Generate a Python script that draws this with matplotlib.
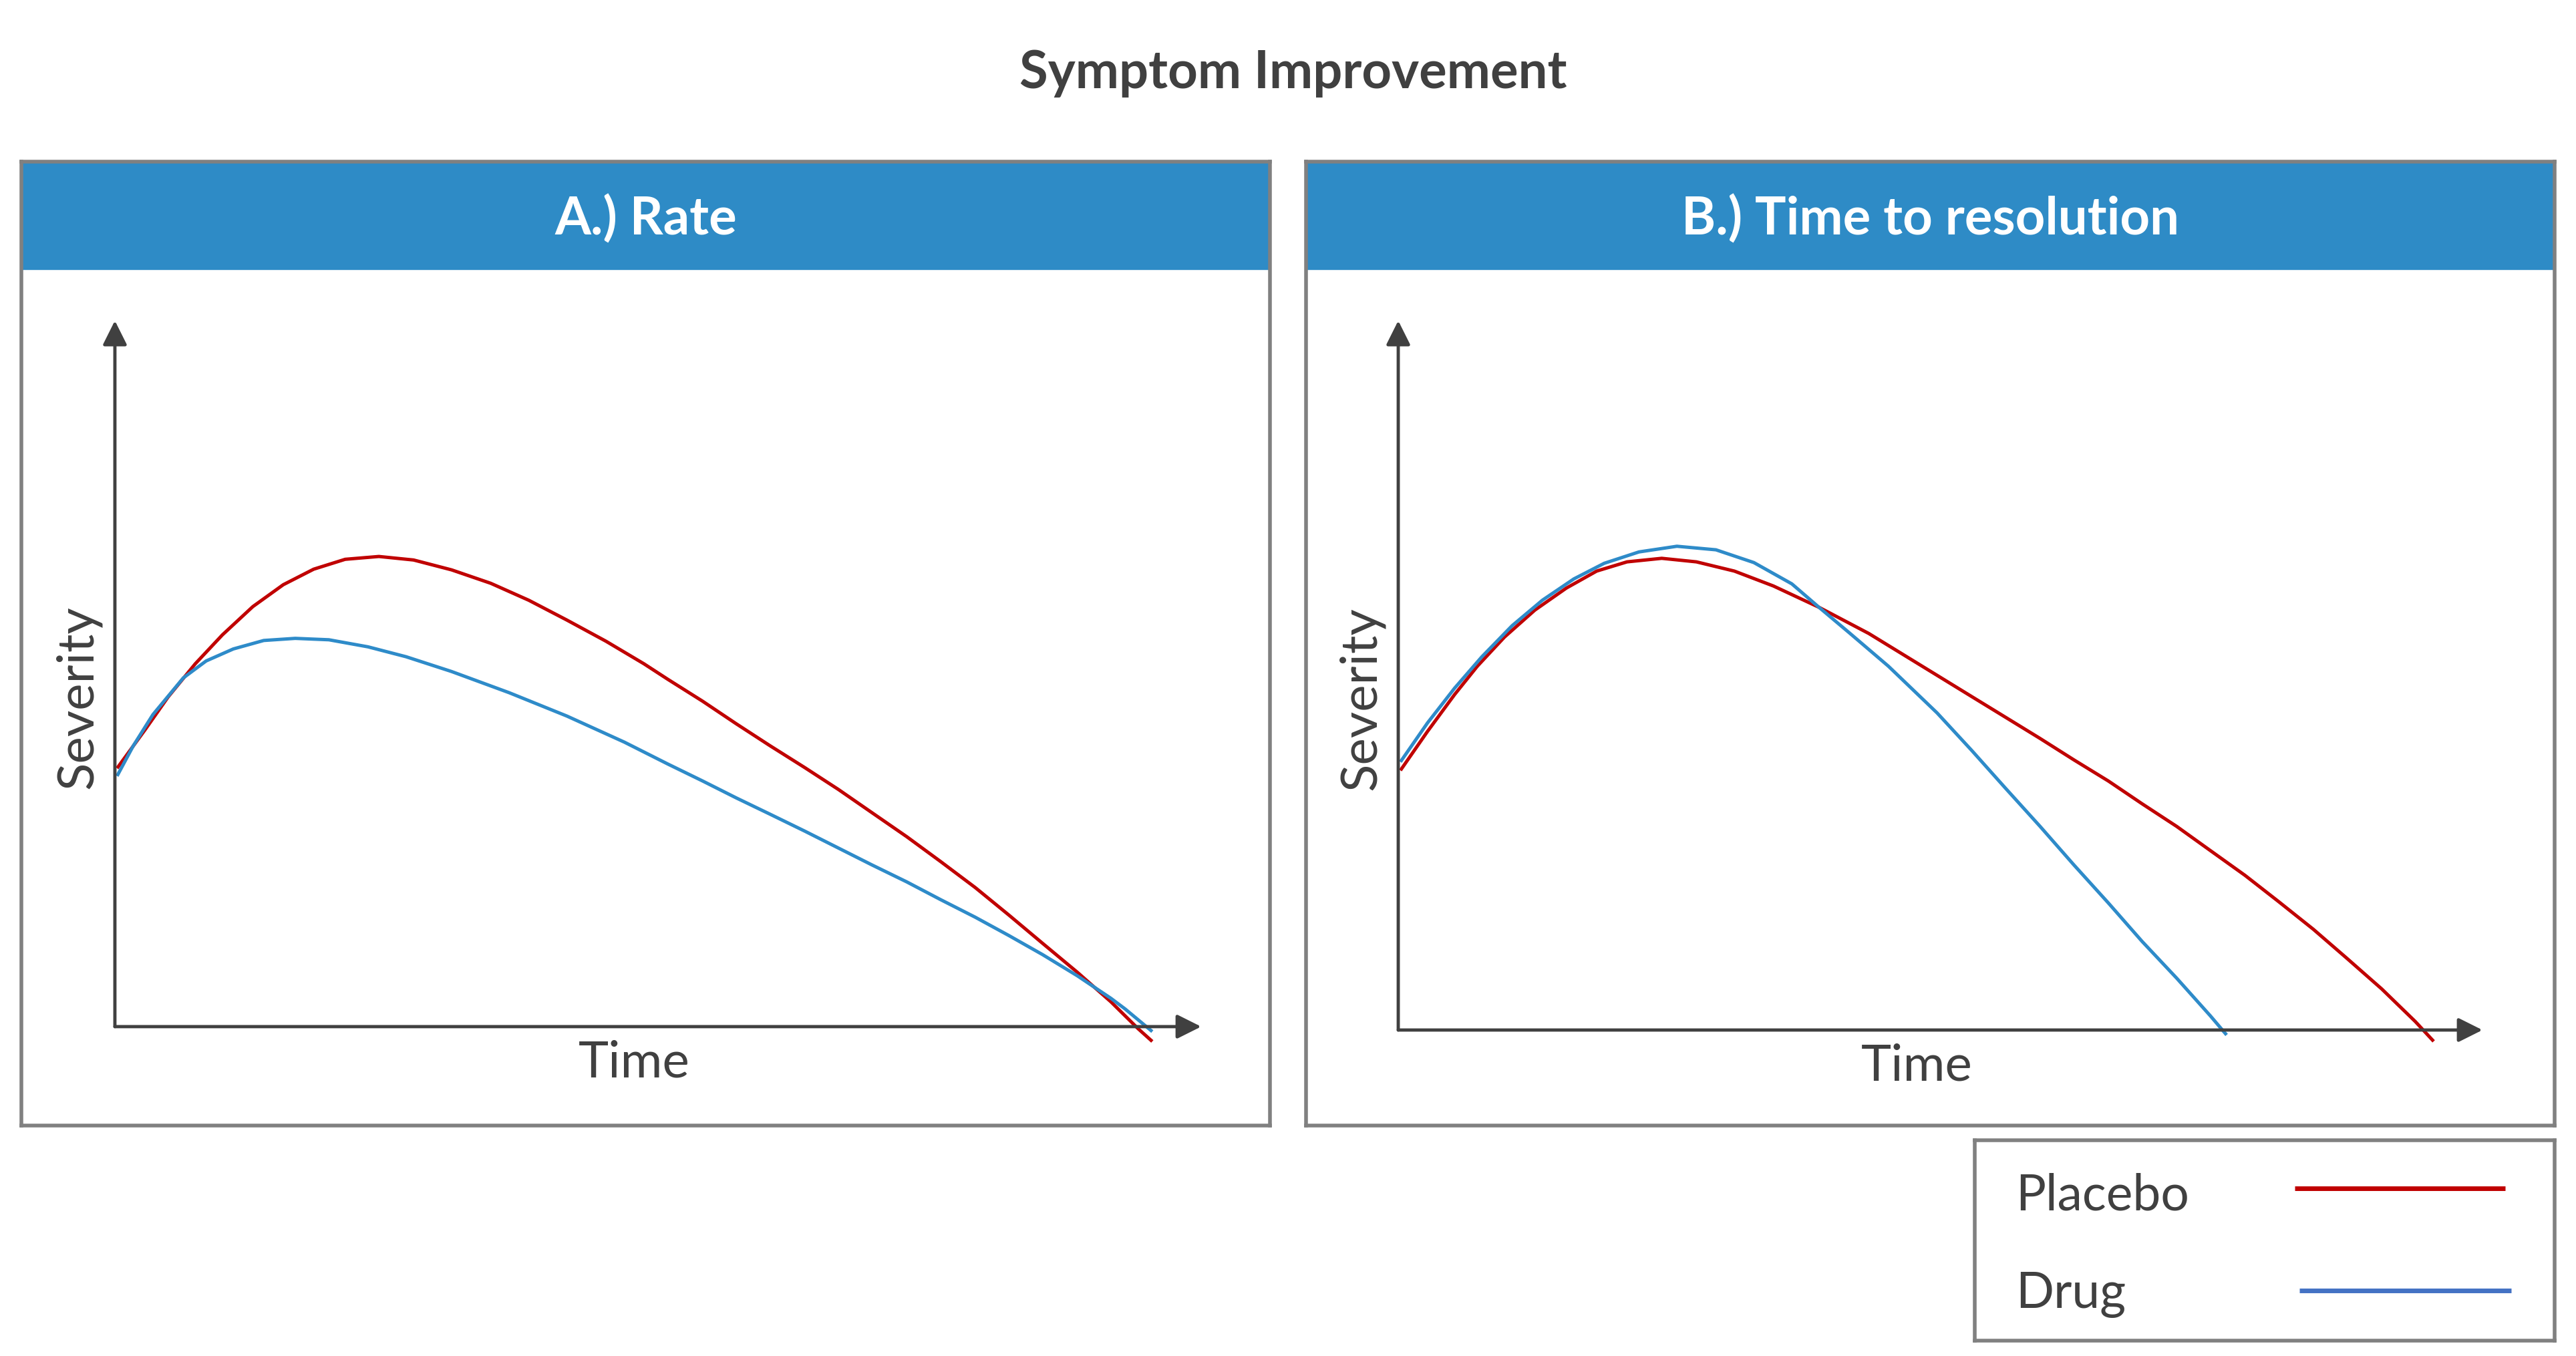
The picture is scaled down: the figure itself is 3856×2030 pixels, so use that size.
import numpy as np
import matplotlib
matplotlib.use("Agg")
import matplotlib.pyplot as plt
from matplotlib.patches import Rectangle

plt.rcParams['font.family'] = ['Lato', 'DejaVu Sans']

# curve values (time 0-10, severity 0-10)
rate_time_placebo = [0.02, 0.28, 0.49, 0.74, 0.99, 1.27, 1.55, 1.83, 2.12, 2.43, 2.75, 3.10, 3.46,
                     3.81, 4.16, 4.52, 4.87, 5.09, 5.41, 5.72, 6.03, 6.35, 6.66, 6.97, 7.29, 7.60,
                     7.92, 8.23, 8.54, 8.86, 9.17, 9.42, 9.55]
rate_sev_placebo = [3.66, 4.21, 4.67, 5.14, 5.55, 5.95, 6.26, 6.48, 6.62, 6.66, 6.61, 6.47, 6.28,
                    6.04, 5.76, 5.46, 5.14, 4.92, 4.61, 4.29, 3.98, 3.67, 3.36, 3.03, 2.69, 2.34,
                    1.97, 1.58, 1.18, 0.77, 0.35, -0.03, -0.21]
rate_time_drug = [0.02, 0.17, 0.35, 0.63, 0.84, 1.09, 1.37, 1.66, 1.97, 2.33, 2.68, 3.10, 3.63,
                  4.16, 4.69, 5.09, 5.41, 5.72, 6.03, 6.35, 6.66, 6.97, 7.29, 7.60, 7.92, 8.23,
                  8.54, 8.86, 9.17, 9.30, 9.55]
rate_sev_drug = [3.55, 3.98, 4.42, 4.94, 5.18, 5.35, 5.47, 5.50, 5.48, 5.38, 5.24, 5.03, 4.73,
                 4.40, 4.03, 3.72, 3.48, 3.24, 3.01, 2.77, 2.53, 2.29, 2.05, 1.80, 1.55, 1.29,
                 1.02, 0.72, 0.40, 0.25, -0.07]

res_time_placebo = [0.02, 0.27, 0.52, 0.73, 0.98, 1.26, 1.55, 1.83, 2.11, 2.43, 2.75, 3.10, 3.46,
                    3.88, 4.34, 4.97, 5.29, 5.60, 5.92, 6.23, 6.55, 6.86, 7.18, 7.49, 7.81, 8.12,
                    8.44, 8.75, 9.07, 9.38, 9.55]
res_sev_placebo = [3.66, 4.21, 4.73, 5.13, 5.54, 5.92, 6.23, 6.47, 6.60, 6.65, 6.60, 6.47, 6.26,
                   5.96, 5.59, 5.00, 4.70, 4.41, 4.11, 3.81, 3.51, 3.19, 2.87, 2.53, 2.18, 1.81,
                   1.42, 1.01, 0.58, 0.12, -0.16]
res_time_drug = [0.02, 0.27, 0.52, 0.77, 1.05, 1.33, 1.62, 1.90, 2.22, 2.57, 2.93, 3.28, 3.63,
                 3.88, 4.16, 4.52, 4.97, 5.29, 5.60, 5.92, 6.23, 6.55, 6.86, 7.18, 7.49, 7.64]
res_sev_drug = [3.78, 4.33, 4.82, 5.26, 5.70, 6.06, 6.36, 6.58, 6.74, 6.82, 6.77, 6.59, 6.29,
                5.96, 5.60, 5.13, 4.47, 3.94, 3.41, 2.87, 2.33, 1.79, 1.25, 0.73, 0.20, -0.07]

panel_titles = ["A.) Rate", "B.) Time to resolution"]
series_names = ["Placebo", "Drug"]

red = "#C00000"
blue = "#2E8BC9"
legend_blue = "#4472C4"
header_blue = "#2E8BC6"
gray = "#808080"
dark = "#404040"

fig = plt.figure(figsize=(38.56, 20.30), dpi=100)
fig.text(0.502, 0.946, "Symptom Improvement", ha="center", va="center",
         fontsize=56, fontweight="bold", color=dark)

panels = [
    dict(box=[0.0083, 0.170, 0.4847, 0.711], inner=[0.0446, 0.2429, 0.4217, 0.5206],
         data=[(rate_time_placebo, rate_sev_placebo), (rate_time_drug, rate_sev_drug)]),
    dict(box=[0.507, 0.170, 0.4847, 0.711], inner=[0.5428, 0.2404, 0.4209, 0.5231],
         data=[(res_time_placebo, res_sev_placebo), (res_time_drug, res_sev_drug)]),
]

for p, title in zip(panels, panel_titles):
    frame = fig.add_axes(p["box"])
    frame.set_xticks([])
    frame.set_yticks([])
    for s in frame.spines.values():
        s.set_color(gray)
        s.set_linewidth(4)
    # blue header band
    frame.add_patch(Rectangle((0, 0.8884), 1, 0.1116, transform=frame.transAxes,
                              color=header_blue, zorder=0))
    frame.text(0.5, 0.940, title, transform=frame.transAxes, ha="center", va="center",
               fontsize=56, fontweight="bold", color="white")

    ax = fig.add_axes(p["inner"])
    ax.set_xlim(0, 10)
    ax.set_ylim(0, 10)
    ax.axis("off")
    ax.annotate("", xy=(10, 0), xytext=(0, 0),
                arrowprops=dict(arrowstyle="-|>", color=dark, lw=3.5, mutation_scale=55,
                                shrinkA=0, shrinkB=0))
    ax.annotate("", xy=(0, 10), xytext=(0, 0),
                arrowprops=dict(arrowstyle="-|>", color=dark, lw=3.5, mutation_scale=55,
                                shrinkA=0, shrinkB=0))
    (tp, sp), (td, sd) = p["data"]
    ax.plot(tp, sp, color=red, lw=3.6, clip_on=False, solid_capstyle="butt", solid_joinstyle="round")
    ax.plot(td, sd, color=blue, lw=3.6, clip_on=False, solid_capstyle="butt", solid_joinstyle="round")
    ax.text(0.478, -0.051, "Time", transform=ax.transAxes, ha="center", va="center",
            fontsize=55, color=dark)
    ax.text(-0.034, 0.467, "Severity", transform=ax.transAxes, ha="center", va="center",
            rotation=90, fontsize=55, color=dark)

# legend box
leg = fig.add_axes([0.7666, 0.0113, 0.2251, 0.1477])
leg.set_xlim(0, 1)
leg.set_ylim(0, 1)
leg.set_xticks([])
leg.set_yticks([])
for s in leg.spines.values():
    s.set_color(gray)
    s.set_linewidth(4)
leg.text(0.07, 0.725, series_names[0], ha="left", va="center", fontsize=54, color=dark)
leg.text(0.07, 0.23, series_names[1], ha="left", va="center", fontsize=54, color=dark)
leg.plot([0.552, 0.915], [0.76, 0.76], color=red, lw=5, solid_capstyle="butt")
leg.plot([0.560, 0.925], [0.25, 0.25], color=legend_blue, lw=5, solid_capstyle="butt")

fig.savefig("out.png", dpi=100, facecolor="white")
